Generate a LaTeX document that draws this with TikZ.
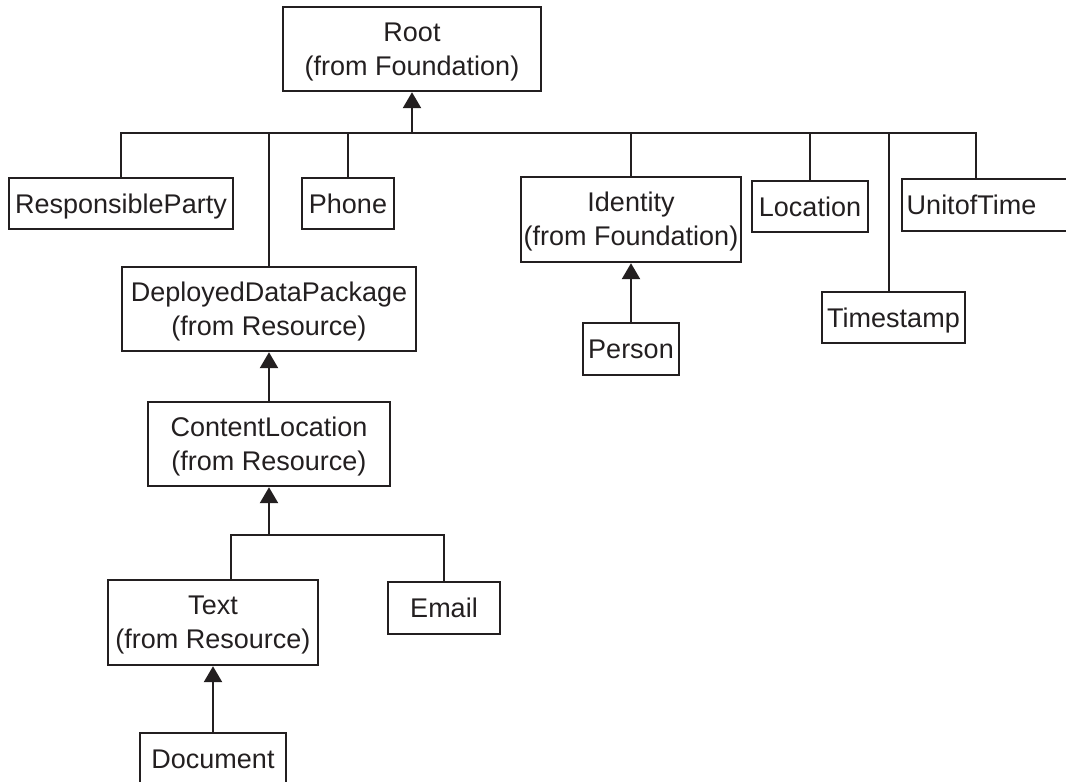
\documentclass[tikz,border=0pt]{standalone}
\usepackage{fontspec}
\setmainfont{Liberation Sans}
\usetikzlibrary{arrows.meta}
\definecolor{ink}{RGB}{35,31,32}

\begin{document}
\begin{tikzpicture}[x=1pt,y=-1pt,
  box/.style={draw=ink, line width=2.4pt, inner sep=0pt, anchor=center},
  lbl/.style={anchor=base, inner sep=0pt, text=ink, font=\fontsize{27}{34}\selectfont},
  link/.style={draw=ink, line width=2.4pt},
  isa/.style={draw=ink, line width=2.4pt, -{Triangle[width=18pt,length=16pt,fill=ink]}}]
\useasboundingbox (0,0) rectangle (1066,782);
\clip (0,0) rectangle (1066,782);

% class boxes (centre, width x height)
\node[box, minimum width=258pt, minimum height=84pt] (root)   at (412,49)    {};
\node[box, minimum width=224pt, minimum height=51pt] (resp)   at (121,203.5) {};
\node[box, minimum width=92pt,  minimum height=51pt] (phone)  at (348,203.5) {};
\node[box, minimum width=294pt, minimum height=84pt] (ddp)    at (269,309)   {};
\node[box, minimum width=220pt, minimum height=85pt] (ident)  at (631,219.5) {};
\node[box, minimum width=116pt, minimum height=51pt] (loc)    at (810,206.5) {};
\node[box, minimum width=143pt, minimum height=51pt] (tstamp) at (893.5,317.5) {};
\node[box, minimum width=168pt, minimum height=52pt] (unit)   at (986,205)   {};
\node[box, minimum width=96pt,  minimum height=52pt] (person) at (631,349)   {};
\node[box, minimum width=242pt, minimum height=84pt] (cloc)   at (269,444)   {};
\node[box, minimum width=210pt, minimum height=85pt] (text)   at (213,622.5) {};
\node[box, minimum width=112pt, minimum height=52pt] (email)  at (444,608)   {};
\node[box, minimum width=146pt, minimum height=51pt] (doc)    at (213,758.5) {};

% labels, set on their baselines
\node[lbl] (rootA)   at (412,41.3)   {Root};
\node[lbl] (rootB)   at (412,75.3)   {(from Foundation)};
\node[lbl] (respA)   at (121,213.2)  {ResponsibleParty};
\node[lbl] (phoneA)  at (348,213.2)  {Phone};
\node[lbl] (ddpA)    at (269,301.3)  {DeployedDataPackage};
\node[lbl] (ddpB)    at (269,335.3)  {(from Resource)};
\node[lbl] (identA)  at (631,211.8)  {Identity};
\node[lbl] (identB)  at (631,245.8)  {(from Foundation)};
\node[lbl] (locA)    at (810,216.2)  {Location};
\node[lbl] (tstampA) at (893.5,327.2) {Timestamp};
\node[lbl] (unitA)   at (971.5,214.7) {UnitofTime};
\node[lbl] (personA) at (631,358.7)  {Person};
\node[lbl] (clocA)   at (269,436.3)  {ContentLocation};
\node[lbl] (clocB)   at (269,470.3)  {(from Resource)};
\node[lbl] (textA)   at (213,614.8)  {Text};
\node[lbl] (textB)   at (213,648.8)  {(from Resource)};
\node[lbl] (emailA)  at (444,617.7)  {Email};
\node[lbl] (docA)    at (213,768.2)  {Document};

% generalisation bus under Root
\coordinate (busL) at (121,133);
\coordinate (busR) at (976,133);
\draw[link] (resp.north) -- (busL) -- (busR) -- ([xshift=-10pt]unit.north);
\draw[isa] (root.south |- busL) -- (root.south);
\draw[link] (ddp.north) -- (ddp.north |- busL);
\draw[link] (phone.north) -- (phone.north |- busL);
\draw[link] (ident.north) -- (ident.north |- busL);
\draw[link] (loc.north) -- (loc.north |- busL);
\draw[link] ([xshift=-4.5pt]tstamp.north) -- ([xshift=-4.5pt]tstamp.north |- busL);

% Person specialises Identity
\draw[isa] (person.north) -- (person.north |- ident.south);

% resource chain
\draw[isa] (cloc.north) -- (cloc.north |- ddp.south);
\coordinate (bus2) at (269,535);
\draw[link] ([xshift=18pt]text.north) |- (bus2) -| (email.north);
\draw[isa] (bus2) -- (cloc.south);
\draw[isa] (doc.north) -- (doc.north |- text.south);
\end{tikzpicture}
\end{document}
